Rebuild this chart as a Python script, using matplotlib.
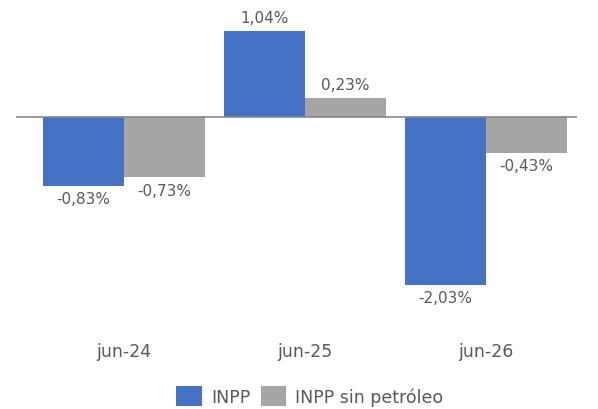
import numpy as np
import matplotlib.pyplot as plt
from matplotlib.transforms import blended_transform_factory

categories = ["jun-24", "jun-25", "jun-26"]
inpp = [-0.83, 1.04, -2.03]
inpp_sin_petroleo = [-0.73, 0.23, -0.43]
series_names = ["INPP", "INPP sin petróleo"]

BLUE = "#4472C4"
GRAY = "#A5A5A5"
TEXT = "#595959"

plt.rcParams["font.family"] = ["DejaVu Sans"]

fig = plt.figure(figsize=(5.98, 4.10), dpi=100)
ax = fig.add_axes([16 / 598, 1 - 300 / 410, (577 - 16) / 598, 280 / 410])

x = np.arange(len(categories))
w = 81 / 181
b1 = ax.bar(x - w / 2, inpp, w, color=BLUE, label=series_names[0])
b2 = ax.bar(x + w / 2, inpp_sin_petroleo, w, color=GRAY, label=series_names[1])

for bars, vals in ((b1, inpp), (b2, inpp_sin_petroleo)):
    for rect, v in zip(bars, vals):
        lbl = f"{v:.2f}%".replace(".", ",")
        off = 4 if v >= 0 else -4
        ax.annotate(lbl, (rect.get_x() + rect.get_width() / 2, v),
                    xytext=(0, off), textcoords="offset points",
                    ha="center", va="bottom" if v >= 0 else "top",
                    fontsize=11, color=TEXT)

ax.axhline(0, color="#868686", lw=1.2, zorder=3)
ax.set_xlim(-108 / 181, 2 + 91 / 181)
ax.set_ylim(-(300 - 118) / 82.7, (118 - 20) / 82.7)
ax.axis("off")

tr = blended_transform_factory(ax.transData, fig.transFigure)
for i, c in enumerate(categories):
    ax.text(i, 1 - 352 / 410, c, transform=tr, ha="center", va="center",
            fontsize=12.5, color=TEXT)

fig.legend(loc="center", bbox_to_anchor=(310 / 598, 1 - 397 / 410), ncol=2,
           frameon=False, fontsize=12.5, labelcolor=TEXT, handlelength=1.45,
           handleheight=1.45, handletextpad=0.55, columnspacing=0.6)

fig.savefig("out.png", dpi=100)
